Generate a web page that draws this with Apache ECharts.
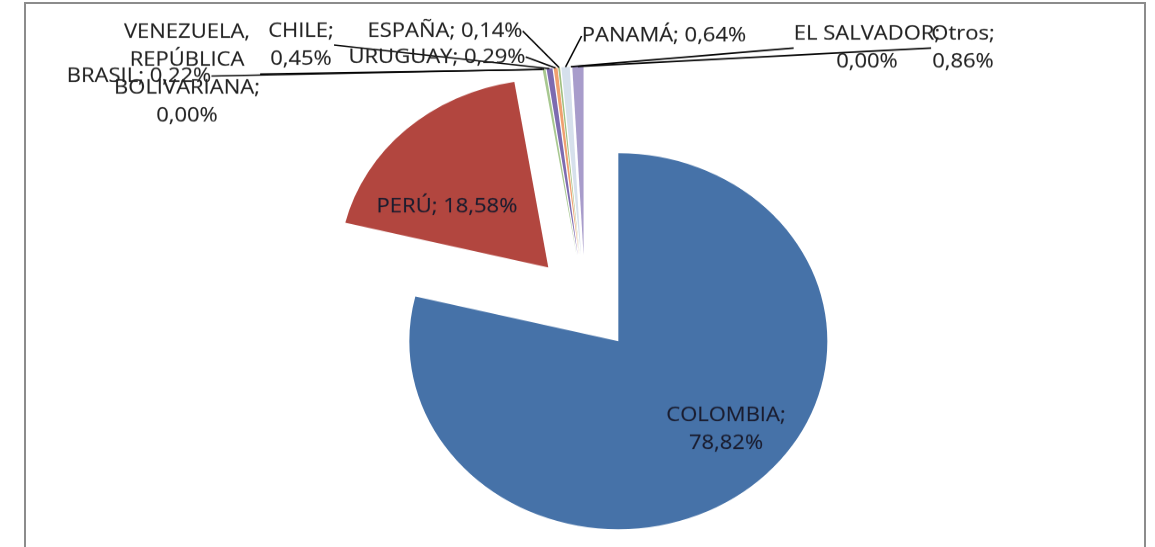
<!DOCTYPE html>
<html>
<head>
<meta charset="utf-8">
<script src="https://cdn.jsdelivr.net/npm/echarts@6/dist/echarts.min.js"></script>
<style>
html,body{margin:0;padding:0;background:#fff;overflow:hidden;width:1155px;height:547px;}
#frame{position:absolute;left:24px;top:2px;width:1122px;height:600px;border:2px solid #8c8c8c;box-sizing:border-box;}
#chart{position:absolute;left:0;top:0;width:1155px;height:608px;transform:scaleY(0.8997);transform-origin:0 0;}
</style>
</head>
<body>
<div id="frame"></div>
<div id="chart"></div>
<script>
// ---- data ----
const countries = ['COLOMBIA', 'PERÚ', 'VENEZUELA, REPÚBLICA BOLIVARIANA', 'BRASIL', 'CHILE', 'URUGUAY', 'ESPAÑA', 'PANAMÁ', 'EL SALVADOR', 'Otros'];
const shares = [78.82, 18.58, 0.00, 0.22, 0.45, 0.29, 0.14, 0.64, 0.00, 0.86];

// ---- styles ----
const sliceColors = ['#4672A8', '#B2463F', '#9BBB59', '#A8C890', '#7D6BB0', '#F0A070', '#A0C080', '#D6E0EC', '#C0D0A0', '#A89CCB'];
const K = 0.8997; // vertical squash of the drawing (picture is an ellipse)
// label placement: [centerX, centerY] in picture pixels, and wrapping mode
const labelSpots = {
  'COLOMBIA': [726, 429, 'two'],
  'PERÚ': [447, 207, 'one'],
  'VENEZUELA, REPÚBLICA BOLIVARIANA': [187, 74, 'words'],
  'BRASIL': [139, 76, 'one'],
  'CHILE': [301, 45, 'two'],
  'URUGUAY': [437, 57, 'one'],
  'ESPAÑA': [445, 31, 'one'],
  'PANAMÁ': [664, 36, 'one'],
  'EL SALVADOR': [867, 48, 'two'],
  'Otros': [963, 48, 'two']
};

function pctText(v) { return v.toFixed(2).replace('.', ',') + '%'; }
function labelText(name, v) {
  const mode = labelSpots[name][2];
  if (mode === 'words') return name.split(' ').join('\n') + ';\n' + pctText(v);
  if (mode === 'two') return name + ';\n' + pctText(v);
  return name + '; ' + pctText(v);
}

const chart = echarts.init(document.getElementById('chart'), null, {renderer: 'canvas'});
const center = [585, 303 / K];
const R = 209;
const explode = 54;

chart.setOption({
  animation: false,
  backgroundColor: 'transparent',
  series: [
    {
      type: 'pie',
      center: center,
      radius: R,
      startAngle: 90,
      clockwise: true,
      selectedMode: 'multiple',
      selectedOffset: explode,
      avoidLabelOverlap: false,
      silent: true,
      label: {show: false},
      labelLine: {show: false},
      emphasis: {disabled: true},
      itemStyle: {borderWidth: 0},
      data: countries.map((n, i) => ({name: n, value: shares[i], selected: true, itemStyle: {color: sliceColors[i]}}))
    },
    {
      type: 'pie',
      center: center,
      radius: R + explode,
      startAngle: 90,
      clockwise: true,
      avoidLabelOverlap: false,
      silent: true,
      z: 5,
      emphasis: {disabled: true},
      itemStyle: {color: 'rgba(0,0,0,0)', borderWidth: 0},
      label: {
        show: true,
        position: 'outside',
        fontFamily: 'Open Sans',
        fontSize: 22,
        lineHeight: 31,
        color: '#222',
        textBorderColor: 'rgba(34,34,34,0.35)',
        textBorderWidth: 0.4,
        formatter: p => labelText(p.name, p.value)
      },
      labelLine: {show: true, length: 8, length2: 0, lineStyle: {color: '#000', width: 1.6}},
      labelLayout: p => {
        const s = labelSpots[countries[p.dataIndex]];
        return {x: s[0], y: s[1] / K, align: 'center', verticalAlign: 'middle'};
      },
      data: countries.map((n, i) => (i < 2
        ? {name: n, value: shares[i], label: {position: 'inside', color: '#1a1c2e', textBorderColor: 'rgba(26,28,46,0.35)', lineHeight: 31}, labelLine: {show: false}}
        : {name: n, value: shares[i]}))
    }
  ]
});
</script>
</body>
</html>
